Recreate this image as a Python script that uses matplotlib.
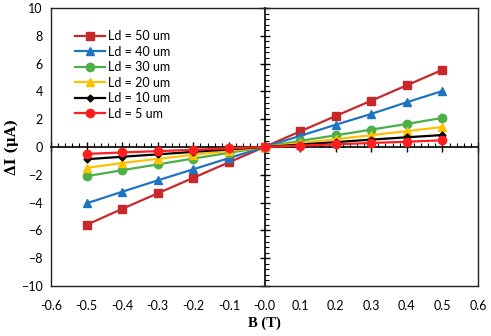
import numpy as np
import matplotlib
matplotlib.use("Agg")
import matplotlib.pyplot as plt
from matplotlib.ticker import MultipleLocator

B = [-0.5, -0.4, -0.3, -0.2, -0.1, 0.0, 0.1, 0.2, 0.3, 0.4, 0.5]

dI_50 = [-5.6, -4.45, -3.33, -2.22, -1.1, 0.0, 1.12, 2.23, 3.33, 4.44, 5.55]
dI_40 = [-4.05, -3.22, -2.4, -1.6, -0.8, 0.0, 0.8, 1.6, 2.38, 3.22, 4.03]
dI_30 = [-2.1, -1.67, -1.25, -0.83, -0.42, 0.0, 0.44, 0.84, 1.25, 1.66, 2.09]
dI_20 = [-1.5, -1.15, -0.85, -0.56, -0.28, 0.0, 0.28, 0.56, 0.85, 1.14, 1.44]
dI_10 = [-0.88, -0.7, -0.53, -0.35, -0.17, 0.0, 0.17, 0.35, 0.53, 0.7, 0.86]
dI_5 = [-0.5, -0.39, -0.3, -0.2, -0.1, 0.0, 0.1, 0.19, 0.29, 0.38, 0.48]

labels = ["Ld = 50 um", "Ld = 40 um", "Ld = 30 um", "Ld = 20 um", "Ld = 10 um", "Ld = 5 um"]
series = [dI_50, dI_40, dI_30, dI_20, dI_10, dI_5]
colors = ["#C8282B", "#1F74C2", "#4CAF47", "#FFC000", "#000000", "#FF1E1E"]
markers = ["s", "^", "o", "^", "D", "o"]
msizes = [6, 6, 6, 6, 3.5, 6]

plt.rcParams['font.family'] = ['Lato', 'DejaVu Sans']

fig = plt.figure(figsize=(4.91, 3.36), dpi=100)
rect = [0.1039, 0.1488, 0.8696, 0.8274]
ax = fig.add_axes(rect)

for y, lab, c, m, ms in zip(series, labels, colors, markers, msizes):
    ax.plot(B, y, color=c, marker=m, markersize=ms, linewidth=1.6, label=lab)

ax.set_xlim(-0.6, 0.6)
ax.set_ylim(-10, 10)
ax.set_xticks(np.arange(-0.6, 0.61, 0.1))
ax.set_xticklabels([f"{v:.1f}" for v in np.arange(-0.6, 0.61, 0.1)])
ax.set_yticks(np.arange(-10, 11, 2))
ax.tick_params(axis="y", length=0, labelsize=9, pad=6)
ax.tick_params(axis="x", length=0, labelsize=9, pad=10)
for s in ax.spines.values():
    s.set_linewidth(1.0)
    s.set_color("#222222")

ax.set_xlabel("B (T)", family="Liberation Serif", fontweight="bold", fontsize=10.5)
ax.xaxis.set_label_coords(0.5, -0.11)
ax.set_ylabel("ΔI (μA)", family="DejaVu Serif", fontweight="bold", fontsize=10)
ax.yaxis.set_label_coords(-0.075, 0.5)

ax.legend(loc="upper left", bbox_to_anchor=(0.03, 0.96), frameon=False,
          fontsize=9, handlelength=2.4, handletextpad=0.2, labelspacing=0.28)

# axes through the origin with crossing ticks
ax2 = fig.add_axes(rect, facecolor="none")
ax2.set_xlim(-0.6, 0.6)
ax2.set_ylim(-10, 10)
for side in ["top", "right"]:
    ax2.spines[side].set_visible(False)
ax2.spines["left"].set_position(("data", 0))
ax2.spines["bottom"].set_position(("data", 0))
ax2.spines["left"].set_linewidth(1.2)
ax2.spines["bottom"].set_linewidth(1.2)
ax2.xaxis.set_major_locator(MultipleLocator(0.1))
ax2.xaxis.set_minor_locator(MultipleLocator(0.02))
ax2.yaxis.set_major_locator(MultipleLocator(2))
ax2.yaxis.set_minor_locator(MultipleLocator(0.4))
ax2.tick_params(which="major", direction="inout", length=7, width=1.0,
                labelbottom=False, labelleft=False)
ax2.tick_params(which="minor", direction="in", length=3, width=0.8)
ax2.set_zorder(-1)
ax.set_facecolor("none")

fig.savefig("out.png", dpi=100)
